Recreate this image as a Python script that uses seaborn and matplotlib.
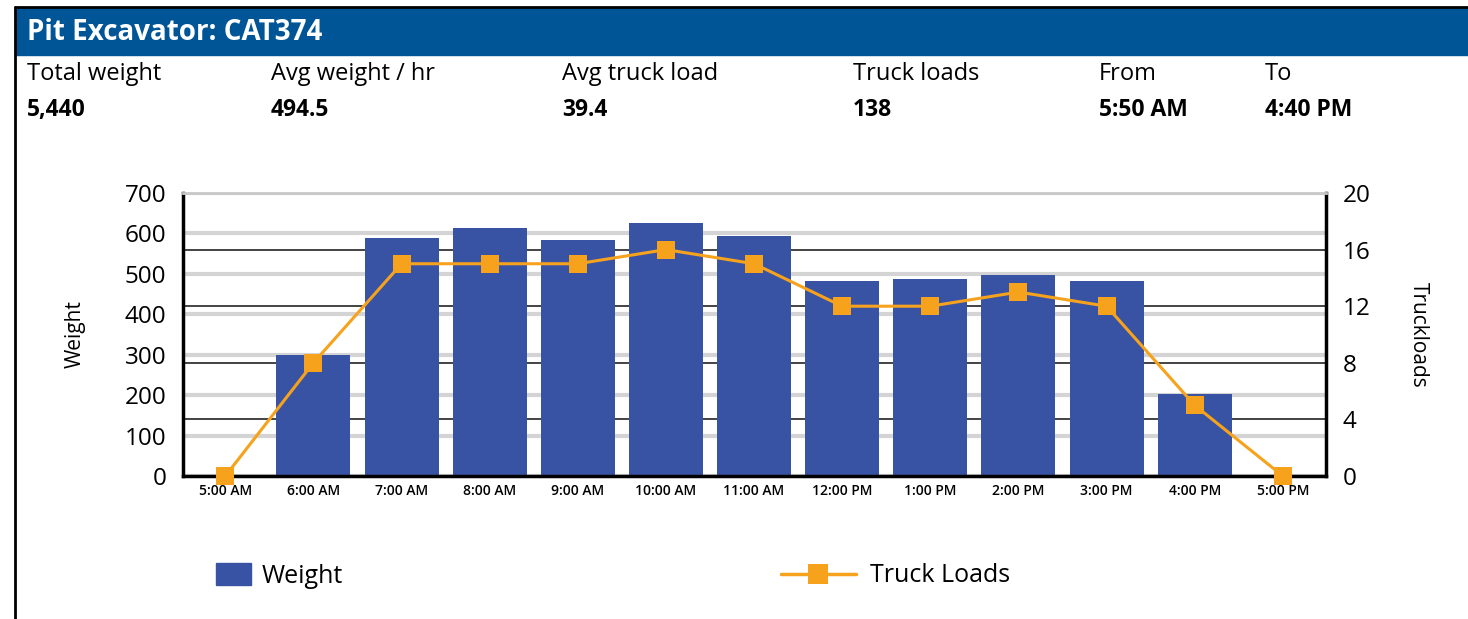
import numpy as np
import pandas as pd
import matplotlib
matplotlib.use("Agg")
import matplotlib.pyplot as plt
from matplotlib.patches import Rectangle, Patch
from matplotlib.lines import Line2D
from matplotlib.ticker import MultipleLocator
import seaborn as sns

# ---- data ----
hours = ["5:00 AM", "6:00 AM", "7:00 AM", "8:00 AM", "9:00 AM", "10:00 AM", "11:00 AM",
         "12:00 PM", "1:00 PM", "2:00 PM", "3:00 PM", "4:00 PM", "5:00 PM"]
weight = [0, 300, 589, 614, 584, 626, 594, 483, 488, 498, 483, 203, 0]
truck_loads = [0, 8, 15, 15, 15, 16, 15, 12, 12, 13, 12, 5, 0]

stat_labels = ["Total weight", "Avg weight / hr", "Avg truck load", "Truck loads", "From", "To"]
stat_values = ["5,440", "494.5", "39.4", "138", "5:50 AM", "4:40 PM"]
stat_x_px = [27, 271, 562, 853, 1099, 1265]

BAR_C = "#3953a4"
LINE_C = "#f6a21c"
HEAD_C = "#005596"
W, H = 1468, 619

df = pd.DataFrame({"hour": hours, "weight": weight, "loads": truck_loads,
                   "pos": np.arange(len(hours))})

sns.set_theme(style="white")
plt.rcParams["font.family"] = ["Open Sans", "DejaVu Sans"]
plt.rcParams["text.color"] = "black"
plt.rcParams["xtick.color"] = "black"
plt.rcParams["ytick.color"] = "black"
plt.rcParams["axes.labelcolor"] = "black"

fig = plt.figure(figsize=(W / 100, H / 100), dpi=100)
ax = fig.add_axes([183 / W, 1 - 476 / H, (1326 - 183) / W, (476 - 193) / H])

# bars (weight)
sns.barplot(data=df, x="hour", y="weight", color=BAR_C, saturation=1, width=0.84,
            linewidth=0, ax=ax)
ax.set_ylim(0, 700)
ax.set_xlim(-0.48, len(hours) - 0.51)
ax.yaxis.set_major_locator(MultipleLocator(100))
ax.yaxis.set_minor_locator(MultipleLocator(140))  # = every 4 truck loads on the right axis
ax.set_axisbelow(True)
ax.grid(axis="y", which="major", color="#d4d4d4", lw=3)
ax.grid(axis="y", which="minor", color="#111111", lw=1.1)
ax.tick_params(axis="y", which="both", length=0, labelsize=17.5, pad=12)
ax.tick_params(axis="x", length=0, labelsize=10, pad=6)
for t in ax.get_xticklabels():
    t.set_fontweight("semibold")
ax.set_xlabel("")
ax.set_ylabel("Weight", fontsize=15, labelpad=28, fontweight="medium")
for s in ["left", "bottom", "right"]:
    ax.spines[s].set_color("black")
    ax.spines[s].set_linewidth(2.5)
ax.spines["top"].set_color("#c8c8c8")
ax.spines["top"].set_linewidth(2)

# line (truck loads)
ax2 = ax.twinx()
sns.lineplot(data=df, x="pos", y="loads", color=LINE_C, lw=2.2, marker="s",
             markersize=13, markeredgewidth=0, ax=ax2, clip_on=False)
ax2.set_ylim(0, 20)
ax2.yaxis.set_major_locator(MultipleLocator(4))
ax2.tick_params(axis="y", length=0, labelsize=17.5, pad=12)
ax2.set_ylabel("Truckloads", fontsize=15, rotation=-90, labelpad=42, fontweight="medium")
ax2.grid(False)
for s in ax2.spines.values():
    s.set_visible(False)

# legends
fig.legend(handles=[Patch(color=BAR_C, label="Weight")], loc="center left",
           bbox_to_anchor=(193 / W, 1 - 576 / H), frameon=False, fontsize=18,
           handlelength=1.4, handleheight=0.95, handletextpad=0.45)
fig.legend(handles=[Line2D([], [], color=LINE_C, lw=2.5, marker="s", markersize=14,
                           markeredgewidth=0, label="Truck Loads")],
           loc="center left", bbox_to_anchor=(758 / W, 1 - 576 / H), frameon=False,
           fontsize=18, handlelength=3.0, handletextpad=0.6)

# header panel
fig.add_artist(Rectangle((15 / W, 1 - 55 / H), (W - 15) / W, 47 / H, color=HEAD_C,
                         transform=fig.transFigure, zorder=0))
fig.add_artist(Line2D([15 / W, 1], [1 - 7 / H, 1 - 7 / H], color="black", lw=2,
                      transform=fig.transFigure))
fig.add_artist(Line2D([15 / W, 15 / W], [0, 1 - 7 / H], color="black", lw=2,
                      transform=fig.transFigure))
fig.text(27 / W, 1 - 32 / H, "Pit Excavator: CAT374", color="white", fontsize=20,
         fontweight="bold", va="center", ha="left")
for lab, val, xp in zip(stat_labels, stat_values, stat_x_px):
    fig.text(xp / W, 1 - 74 / H, lab, fontsize=17, va="center", ha="left")
    fig.text(xp / W, 1 - 110 / H, val, fontsize=16.5, fontweight="bold", va="center",
             ha="left")

fig.savefig("out.png", dpi=100)
plt.close(fig)
